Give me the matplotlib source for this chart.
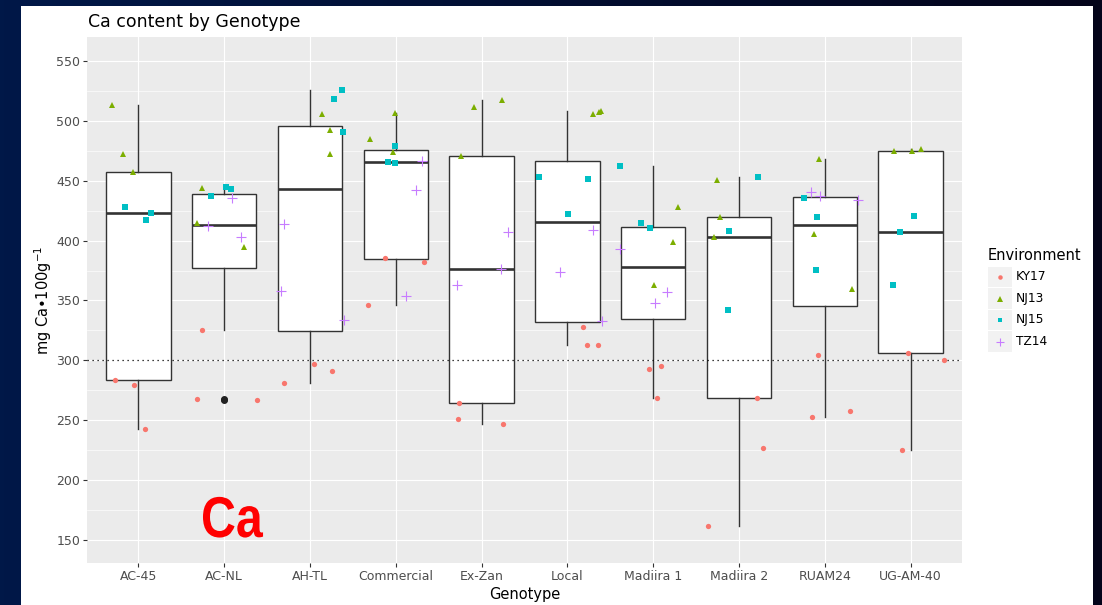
import numpy as np
import matplotlib
matplotlib.use("Agg")
import matplotlib.pyplot as plt
from matplotlib.patches import Rectangle, PathPatch
from matplotlib.lines import Line2D
from matplotlib.textpath import TextPath
from matplotlib.font_manager import FontProperties
from matplotlib.transforms import Affine2D, IdentityTransform

# ---------------------------------------------------------------- data
genotypes = ["AC-45", "AC-NL", "AH-TL", "Commercial", "Ex-Zan", "Local",
             "Madiira 1", "Madiira 2", "RUAM24", "UG-AM-40"]
environments = ["KY17", "NJ13", "NJ15", "TZ14"]

ky17_genotype = ["AC-45"] * 3 + ["AC-NL"] * 3 + ["AH-TL"] * 3 + ["Commercial"] * 3 + \
                ["Ex-Zan"] * 3 + ["Local"] * 3 + ["Madiira 1"] * 3 + ["Madiira 2"] * 3 + \
                ["RUAM24"] * 3 + ["UG-AM-40"] * 3
ky17_ca = [283.7, 279.3, 242.8, 268.0, 267.3, 325.0, 297.3, 291.0, 280.7,
           385.3, 382.3, 346.0, 264.8, 250.9, 246.9, 327.9, 313.0, 313.0,
           293.2, 294.9, 268.8, 268.9, 226.9, 161.5, 304.3, 253.0, 257.8,
           306.5, 300.0, 224.8]
ky17_jitter = [-0.274, -0.056, 0.076, -0.32, 0.38, -0.263, 0.045, 0.252, -0.308,
               -0.126, 0.329, -0.328, -0.263, -0.279, 0.246, 0.178, 0.228, 0.357,
               -0.049, 0.091, 0.044, 0.215, 0.277, -0.36, -0.075, -0.152, 0.291,
               -0.033, 0.387, -0.096]

nj13_genotype = ky17_genotype
nj13_ca = [513.0, 472.0, 457.0, 444.3, 414.8, 395.0, 505.8, 492.4, 472.0,
           506.6, 484.6, 474.2, 517.7, 511.4, 470.5, 505.5, 507.0, 508.0,
           427.9, 398.7, 363.3, 450.6, 419.3, 402.8, 468.0, 405.8, 359.2,
           475.1, 474.6, 476.8]
nj13_jitter = [-0.305, -0.177, -0.064, -0.26, -0.318, 0.23, 0.139, 0.228, 0.228,
               -0.006, -0.30, -0.036, 0.241, -0.092, -0.24, 0.298, 0.372, 0.392,
               0.286, 0.227, 0.006, -0.255, -0.217, -0.287, -0.066, -0.121, 0.315,
               -0.189, 0.021, 0.122]

nj15_genotype = ["AC-45"] * 3 + ["AC-NL"] * 3 + ["AH-TL"] * 3 + ["Commercial"] * 3 + \
                ["Local"] * 3 + ["Madiira 1"] * 3 + ["Madiira 2"] * 3 + \
                ["RUAM24"] * 3 + ["UG-AM-40"] * 3
nj15_ca = [428.0, 423.4, 417.0, 437.0, 444.6, 443.0, 526.0, 518.5, 490.7,
           479.0, 465.7, 464.9, 453.2, 451.5, 422.6, 462.6, 415.0, 410.6,
           452.9, 408.4, 341.9, 435.9, 420.0, 375.5, 420.9, 407.5, 363.3]
nj15_jitter = [-0.157, 0.146, 0.091, -0.152, 0.02, 0.075, 0.375, 0.279, 0.387,
               -0.013, -0.087, -0.006, -0.335, 0.24, 0.01, -0.387, -0.139, -0.041,
               0.219, -0.119, -0.131, -0.245, -0.093, -0.105, 0.044, -0.126, -0.208]

tz14_genotype = ["AC-NL"] * 3 + ["AH-TL"] * 3 + ["Commercial"] * 3 + ["Ex-Zan"] * 3 + \
                ["Local"] * 3 + ["Madiira 1"] * 3 + ["RUAM24"] * 3
tz14_ca = [435.9, 412.0, 403.0, 414.2, 357.8, 333.6, 466.5, 442.0, 353.8,
           407.3, 376.3, 362.8, 408.7, 373.6, 333.0, 393.3, 356.7, 347.8,
           440.4, 437.0, 434.2]
tz14_jitter = [0.09, -0.19, 0.19, -0.30, -0.336, 0.395, 0.302, 0.232, 0.119,
               0.311, 0.23, -0.29, 0.295, -0.09, 0.403, -0.387, 0.157, 0.024,
               -0.163, -0.051, 0.385]

reference_line = 300
y_ticks = [150, 200, 250, 300, 350, 400, 450, 500, 550]

# ---------------------------------------------------------------- styles
W, H = 1102, 605
env_style = {
    "KY17": dict(color="#F8766D", marker="o", ms=3.8, mew=0.0),
    "NJ13": dict(color="#7CAE00", marker="^", ms=4.4, mew=0.0),
    "NJ15": dict(color="#00BFC4", marker="s", ms=4.0, mew=0.0),
    "TZ14": dict(color="#C77CFF", marker="+", ms=7.2, mew=0.8),
}
env_data = {
    "KY17": (ky17_genotype, ky17_ca, ky17_jitter),
    "NJ13": (nj13_genotype, nj13_ca, nj13_jitter),
    "NJ15": (nj15_genotype, nj15_ca, nj15_jitter),
    "TZ14": (tz14_genotype, tz14_ca, tz14_jitter),
}


def fx(px):
    return px / W


def fy(py):
    return 1 - py / H


fig = plt.figure(figsize=(W / 100, H / 100), dpi=100)

# slide background: dark navy gradient with a white card on top
bg = fig.add_axes([0, 0, 1, 1], zorder=-10)
grad = np.linspace(0, 1, 256)[None, :]
left_c = np.array([0x00, 0x18, 0x48]) / 255
right_c = np.array([0x04, 0x04, 0x1A]) / 255
img = left_c[None, None, :] * (1 - grad[..., None]) + right_c[None, None, :] * grad[..., None]
bg.imshow(img, extent=[0, 1, 0, 1], aspect="auto")
bg.add_patch(Rectangle((fx(21), 0), fx(1093 - 21), 1 - 6 / H,
                       transform=bg.transAxes, facecolor="white", edgecolor="none"))
bg.set_xlim(0, 1)
bg.set_ylim(0, 1)
bg.axis("off")

# ---------------------------------------------------------------- panel
ax = fig.add_axes([fx(87), fy(563), fx(962 - 87), (563 - 37) / H])
ax.set_facecolor("#EBEBEB")
for s in ax.spines.values():
    s.set_visible(False)

positions = np.arange(len(genotypes))
ax.set_xlim(-0.6, len(genotypes) - 0.4)
ax.set_ylim(130.8, 570.0)

for y in y_ticks:
    ax.axhline(y, color="white", lw=0.85, zorder=0)
for y in np.arange(175, 575, 50):
    ax.axhline(y, color="white", lw=0.45, zorder=0)
for x in positions:
    ax.axvline(x, color="white", lw=0.85, zorder=0)

# pool all environments per genotype for the boxplots
groups = {g: [] for g in genotypes}
for env in environments:
    gl, vals, _ = env_data[env]
    for g, v in zip(gl, vals):
        groups[g].append(v)

ax.boxplot([groups[g] for g in genotypes], positions=positions, widths=0.75,
           whis=1.5, patch_artist=True, showcaps=False, manage_ticks=False,
           boxprops=dict(facecolor="white", edgecolor="#333333", lw=1.0),
           medianprops=dict(color="#333333", lw=1.9),
           whiskerprops=dict(color="#333333", lw=1.0),
           flierprops=dict(marker="o", markerfacecolor="#222222",
                           markeredgecolor="#222222", markersize=4.0),
           zorder=2)

ax.axhline(reference_line, color="black", lw=0.9, ls=(0, (1, 3)), zorder=2.5)

gindex = {g: i for i, g in enumerate(genotypes)}
for env in environments:
    gl, vals, jit = env_data[env]
    xs = [gindex[g] + j for g, j in zip(gl, jit)]
    st = env_style[env]
    ax.plot(xs, vals, linestyle="none", marker=st["marker"], ms=st["ms"],
            mew=st["mew"], color=st["color"], mec=st["color"], zorder=3)

ax.set_xticks(positions)
ax.set_xticklabels(genotypes)
ax.set_yticks(y_ticks)
ax.tick_params(axis="both", colors="#333333", length=2.8, width=0.8,
               labelcolor="#4D4D4D", labelsize=9.0)
ax.tick_params(axis="x", pad=2.5)
ax.tick_params(axis="y", pad=2.0)

# ---------------------------------------------------------------- text
fig.text(fx(88), fy(27), "Ca content by Genotype", fontsize=12.5,
         color="black", va="baseline", ha="left")
fig.text(fx(524.5), fy(594), "Genotype", fontsize=10.5, color="black",
         ha="center", va="center")
fig.text(fx(43), fy(300), "mg Ca\u2022100g$^{-1}$", fontsize=10.5,
         color="black", rotation=90, ha="center", va="center")

# big condensed bold "Ca" label, drawn as a horizontally squeezed glyph path
ca_path = TextPath((0, 0), "Ca", size=57.5,
                   prop=FontProperties(family="Liberation Sans", weight="bold"))
ca_tr = Affine2D().scale(0.84, 1.0).translate(201, H - 537)
fig.patches.append(PathPatch(ca_tr.transform_path(ca_path), facecolor="#FF0000",
                             edgecolor="none", transform=IdentityTransform()))

# ---------------------------------------------------------------- legend
fig.text(fx(988), fy(256), "Environment", fontsize=10.5, color="black",
         ha="left", va="center")
row_centers = [277, 298.5, 320, 341.5]
for env, yc in zip(environments, row_centers):
    fig.patches.append(Rectangle((fx(988), fy(yc + 10.3)), fx(24), 20.6 / H,
                                 transform=fig.transFigure,
                                 facecolor="#F2F2F2", edgecolor="none"))
    st = env_style[env]
    fig.lines.append(Line2D([fx(1000)], [fy(yc)], transform=fig.transFigure,
                            linestyle="none", marker=st["marker"],
                            ms=st["ms"] * 0.85, mew=st["mew"],
                            color=st["color"], mec=st["color"]))
    fig.text(fx(1016), fy(yc), env, fontsize=8.8, color="black",
             ha="left", va="center")

fig.savefig("out.png", dpi=100)
